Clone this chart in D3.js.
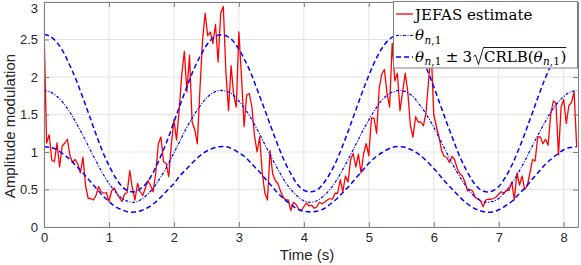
<!DOCTYPE html>
<html><head><meta charset="utf-8">
<script src="https://cdn.jsdelivr.net/npm/d3@7"></script>
<style>body{margin:0;background:#fff}svg{display:block}</style>
</head><body>
<svg id="c" width="581" height="265"></svg>
<script>
// ---------- data ----------
const xTicks = [0, 1, 2, 3, 4, 5, 6, 7, 8];
const yTicks = [0, 0.5, 1, 1.5, 2, 2.5, 3];
const yTickLabels = ["0", "0.5", "1", "1.5", "2", "2.5", "3"];
const xLabel = "Time (s)";
const yLabel = "Amplitude modulation";

const estStep = 0.04; // seconds between estimate samples
const estimate = [
2.69,1.12,1.23,0.89,0.87,1.12,0.80,1.08,1.12,1.17,0.95,0.86,0.90,0.84,0.72,0.93,0.55,0.38,0.38,0.36,
0.42,0.54,0.47,0.45,0.46,0.34,0.48,0.52,0.45,0.39,0.34,0.44,0.46,0.75,0.52,0.36,0.58,0.47,0.42,0.52,
0.62,0.55,0.47,0.72,1.11,1.20,0.87,0.85,0.67,1.10,1.43,1.16,1.55,2.03,2.34,1.80,2.29,1.40,1.30,1.11,
1.83,2.48,2.85,2.55,2.60,2.45,2.70,2.20,2.85,2.94,2.07,1.55,2.15,1.76,1.60,2.60,2.00,1.34,1.76,1.78,
1.60,1.22,1.00,1.20,0.72,0.45,0.36,1.02,0.71,0.62,0.58,0.48,0.40,0.36,0.36,0.22,0.33,0.30,0.24,0.22,
0.27,0.32,0.28,0.29,0.25,0.27,0.33,0.31,0.33,0.36,0.38,0.37,0.45,0.45,0.63,0.47,0.68,0.60,0.90,0.98,
0.80,0.97,0.72,0.98,1.11,0.95,1.45,1.45,1.25,1.85,2.04,2.10,1.78,1.60,2.45,1.95,2.05,1.55,1.80,2.05,
1.80,1.35,1.20,1.47,1.40,1.40,1.35,1.52,1.95,2.35,1.50,1.34,1.20,1.02,0.94,0.93,0.86,0.94,0.90,0.78,
0.71,0.68,0.60,0.48,0.50,0.48,0.39,0.38,0.35,0.27,0.36,0.37,0.37,0.38,0.40,0.44,0.47,0.45,0.49,0.49,
0.60,0.36,0.72,0.56,0.68,0.50,0.55,0.72,0.90,0.88,1.20,1.20,1.11,1.17,1.09,1.50,1.68,1.65,0.96,1.60,
1.70,1.38,1.62,1.66,1.80,1.07
];

const thetaStep = 0.1; // seconds between model samples
const theta = [
1.82,1.80,1.74,1.65,1.53,1.38,1.22,1.05,0.88,0.72,0.58,0.47,0.38,0.34,0.33,0.37,0.44,0.54,0.67,0.82,
0.99,1.16,1.33,1.48,1.61,1.72,1.79,1.82,1.81,1.77,1.68,1.57,1.43,1.27,1.10,0.93,0.77,0.62,0.50,0.41,
0.35,0.33,0.35,0.41,0.50,0.62,0.77,0.93,1.10,1.27,1.43,1.57,1.69,1.77,1.81,1.82,1.79,1.72,1.61,1.48,
1.33,1.16,0.99,0.82,0.67,0.54,0.43,0.36,0.33,0.34,0.38,0.47,0.58,0.72,0.88,1.05,1.22,1.38,1.53,1.65,
1.74,1.80,1.82
];
const upper = [
2.57,2.54,2.46,2.33,2.15,1.95,1.72,1.48,1.24,1.01,0.82,0.66,0.54,0.48,0.47,0.52,0.61,0.76,0.95,1.16,
1.40,1.64,1.87,2.09,2.27,2.42,2.52,2.56,2.55,2.49,2.37,2.21,2.02,1.79,1.56,1.32,1.09,0.88,0.71,0.57,
0.49,0.47,0.49,0.58,0.71,0.88,1.09,1.32,1.56,1.80,2.02,2.22,2.38,2.49,2.55,2.56,2.52,2.42,2.27,2.09,
1.87,1.63,1.39,1.16,0.94,0.76,0.61,0.51,0.47,0.48,0.54,0.66,0.82,1.02,1.24,1.48,1.72,1.95,2.15,2.33,
2.46,2.54,2.57
];
const lower = [
1.07,1.06,1.03,0.97,0.90,0.81,0.72,0.62,0.52,0.42,0.34,0.27,0.23,0.20,0.20,0.22,0.26,0.32,0.40,0.49,
0.58,0.69,0.78,0.87,0.95,1.01,1.05,1.07,1.07,1.04,0.99,0.93,0.84,0.75,0.65,0.55,0.45,0.37,0.30,0.24,
0.21,0.20,0.21,0.24,0.30,0.37,0.46,0.55,0.65,0.75,0.85,0.93,0.99,1.04,1.07,1.07,1.05,1.01,0.95,0.87,
0.78,0.68,0.58,0.49,0.40,0.32,0.26,0.22,0.20,0.20,0.23,0.28,0.34,0.43,0.52,0.62,0.72,0.82,0.90,0.97,
1.03,1.06,1.07
];

// ---------- layout ----------
const svg = d3.select("#c");
const L = 44, R = 578, T = 2, B = 227;
const x = d3.scaleLinear().domain([0, 8.22]).range([L, R]);
const y = d3.scaleLinear().domain([0, 3]).range([B, T]);
const frame = "#7f7f7f", txt = "#262626";

svg.append("defs").append("clipPath").attr("id", "clip")
  .append("rect").attr("x", L).attr("y", T).attr("width", R - L).attr("height", B - T);

// grid
const grid = svg.append("g").attr("stroke", "#e3e3e3").attr("stroke-width", 1);
grid.selectAll(".gx").data(xTicks).join("line")
  .attr("x1", d => x(d)).attr("x2", d => x(d)).attr("y1", T).attr("y2", B);
grid.selectAll(".gy").data(yTicks).join("line")
  .attr("y1", d => y(d)).attr("y2", d => y(d)).attr("x1", L).attr("x2", R);

// lines
const plot = svg.append("g").attr("clip-path", "url(#clip)");
const lineM = d3.line().x((d, i) => x(i * thetaStep)).y(d => y(d)).curve(d3.curveCatmullRom);
const lineE = d3.line().x((d, i) => x(i * estStep)).y(d => y(d));

plot.append("path").datum(estimate).attr("d", lineE)
  .attr("fill", "none").attr("stroke", "#ff0000").attr("stroke-width", 1.3).attr("stroke-linejoin", "round");
plot.append("path").datum(theta).attr("d", lineM)
  .attr("fill", "none").attr("stroke", "#0000ff").attr("stroke-width", 1.2).attr("stroke-dasharray", "3,1.5,1,1.5");
[upper, lower].forEach(arr => {
  plot.append("path").datum(arr).attr("d", lineM)
    .attr("fill", "none").attr("stroke", "#0000ff").attr("stroke-width", 1.5).attr("stroke-dasharray", "5,3");
});

// axes
function styleAxis(g) {
  g.select(".domain").attr("stroke", frame);
  g.selectAll(".tick line").attr("stroke", frame);
  g.selectAll("text").attr("fill", txt).attr("font-family", "'Liberation Sans', Arial, sans-serif").attr("font-size", 13);
}
svg.append("g").attr("transform", `translate(0,${B})`)
  .call(d3.axisBottom(x).tickValues(xTicks).tickSize(-5).tickSizeOuter(0).tickPadding(6).tickFormat(d3.format("d")))
  .call(styleAxis);
svg.append("g").attr("transform", `translate(0,${T})`)
  .call(d3.axisTop(x).tickValues(xTicks).tickSize(-5).tickSizeOuter(0).tickFormat(""))
  .call(styleAxis);
const yAx = svg.append("g").attr("transform", `translate(${L},0)`)
  .call(d3.axisLeft(y).tickValues(yTicks).tickSize(-5).tickSizeOuter(0).tickPadding(6).tickFormat((d, i) => yTickLabels[i]))
  .call(styleAxis);
// keep the top label inside the page
yAx.selectAll(".tick text").filter(d => d === 3).attr("dy", "0.72em").attr("y", 1);
svg.append("g").attr("transform", `translate(${R},0)`)
  .call(d3.axisRight(y).tickValues(yTicks).tickSize(-5).tickSizeOuter(0).tickFormat(""))
  .call(styleAxis);

// axis labels
svg.append("text").attr("x", 307).attr("y", 260).attr("text-anchor", "middle")
  .attr("font-family", "'Liberation Sans', Arial, sans-serif").attr("font-size", 15).attr("fill", txt).text(xLabel);
svg.append("text").attr("transform", "translate(15,126) rotate(-90)").attr("text-anchor", "middle")
  .attr("font-family", "'Liberation Sans', Arial, sans-serif").attr("font-size", 15).attr("fill", txt).text(yLabel);

// ---------- legend ----------
const lg = svg.append("g");
lg.append("rect").attr("x", 393.5).attr("y", 1.5).attr("width", 184).attr("height", 66.5)
  .attr("fill", "#fff").attr("stroke", frame).attr("stroke-width", 1);

const serif = "'DejaVu Serif', 'Liberation Serif', serif";
const FS = 15, SUB = 10.5;
function run(xp, yp, s, opt = {}) {
  const t = lg.append("text").attr("x", xp).attr("y", yp).attr("font-family", serif)
    .attr("font-size", opt.size || FS).attr("fill", "#000")
    .attr("font-style", opt.italic ? "italic" : "normal").text(s);
  return t.node().getComputedTextLength();
}
function thetaSub(xp, yp) {
  let w = run(xp, yp, "θ", {italic: true});
  w += 0.5;
  w += run(xp + w, yp + 3.5, "n", {italic: true, size: SUB});
  w += run(xp + w, yp + 3.5, ",1", {size: SUB});
  return w + 0.5;
}
const sx1 = 396, sx2 = 413, tx = 415;
// row 1
lg.append("line").attr("x1", sx1).attr("x2", sx2).attr("y1", 14).attr("y2", 14)
  .attr("stroke", "#ff0000").attr("stroke-width", 1.3);
run(tx, 19.5, "JEFAS estimate");
// row 2
lg.append("line").attr("x1", sx1).attr("x2", sx2).attr("y1", 35.5).attr("y2", 35.5)
  .attr("stroke", "#0000ff").attr("stroke-width", 1.2).attr("stroke-dasharray", "3,1.5,1,1.5");
thetaSub(tx, 40);
// row 3
lg.append("line").attr("x1", sx1).attr("x2", sx2).attr("y1", 57).attr("y2", 57)
  .attr("stroke", "#0000ff").attr("stroke-width", 1.5).attr("stroke-dasharray", "5,3");
let cx = tx, by = 61.5;
cx += thetaSub(cx, by);
cx += 4;
cx += run(cx, by, "±");
cx += 4;
cx += run(cx, by, "3");
// radical
const r0 = cx + 1.5;
lg.append("path").attr("d", `M${r0},${by - 5} L${r0 + 2},${by - 6.5} L${r0 + 5},${by + 3} L${r0 + 10},${by - 14}`)
  .attr("fill", "none").attr("stroke", "#000").attr("stroke-width", 0.9);
cx = r0 + 10.5;
const startBar = cx;
cx += run(cx, by, "CRLB(");
cx += thetaSub(cx, by);
cx += run(cx, by, ")");
lg.append("line").attr("x1", startBar - 0.5).attr("x2", cx).attr("y1", by - 14).attr("y2", by - 14)
  .attr("stroke", "#000").attr("stroke-width", 0.9);
</script>
</body></html>
